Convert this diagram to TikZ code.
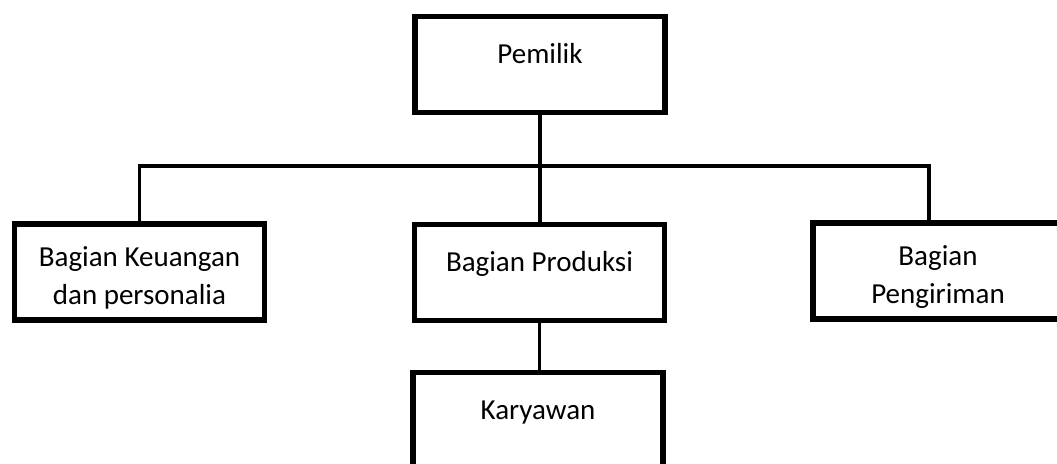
\documentclass[tikz,border=0pt]{standalone}
\usepackage{fontspec}
\setmainfont{Carlito}

\tikzset{
  boxshape/.style={draw, line width=5.5pt, minimum width=250pt, minimum height=96pt,
    inner sep=0pt, font=\fontsize{29}{38}\selectfont},
  onebox/.style={boxshape, text height=20pt, text depth=23pt},
  twobox/.style={boxshape, align=center, text height=72pt, text depth=7pt},
  link/.style={line width=3.8pt}
}

\begin{document}
\begin{tikzpicture}[x=1pt, y=-1pt]
        \useasboundingbox (0, 0) rectangle (1057, 463);

        % Top
        \node[onebox] (pemilik) at (540, 64.5) {Pemilik};

        % Middle row
        \node[twobox] (keuangan) at (139.5, 271.75) {Bagian Keuangan\\dan personalia};
        \node[onebox] (produksi) at (539.5, 272.5) {Bagian Produksi};
        \node[twobox] (pengiriman) at (938, 271) {Bagian\\Pengiriman};

        % Bottom
        \node[onebox] (karyawan) at (538, 420.5) {Karyawan};

        % Lines
        \coordinate (bus) at (538, 166);
        \draw[link] (pemilik.south) -- (pemilik.south |- produksi.north);
        \draw[link] (keuangan.north) |- (bus) -| ([xshift=-9pt]pengiriman.north);
        \draw[link] (produksi.south) -- (produksi.south |- karyawan.north);
\end{tikzpicture}
\end{document}
